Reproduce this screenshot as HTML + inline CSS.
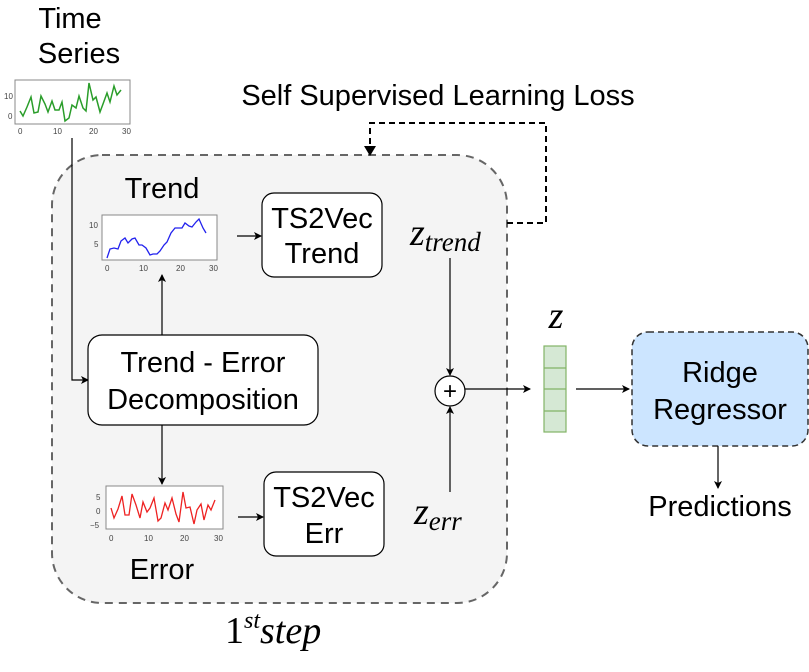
<!DOCTYPE html>
<html><head><meta charset="utf-8"><style>
html,body{margin:0;padding:0;background:#fff;}
svg{display:block;font-family:"Liberation Sans",sans-serif;}
.ax{font-size:8px;fill:#444;}
.t{font-size:29px;}
.m{font-style:italic;font-family:"Liberation Serif",serif;}
</style></head><body>
<svg width="809" height="672" viewBox="0 0 809 672">
<defs>
<marker id="a" markerWidth="8" markerHeight="8" refX="7" refY="4" orient="auto" markerUnits="userSpaceOnUse"><path d="M0,0 L8,4 L0,8 L2,4z" fill="#000"/></marker>
</defs>
<rect x="52" y="155" width="455" height="448" rx="50" fill="#f4f4f4" stroke="#666" stroke-width="2" stroke-dasharray="8,6"/>
<text x="70" y="28" class="t" text-anchor="middle">Time</text>
<text x="79" y="63" class="t" text-anchor="middle">Series</text>
<text x="438" y="105" class="t" text-anchor="middle">Self Supervised Learning Loss</text>
<path d="M507,223 H546 V123 H370 V150" fill="none" stroke="#000" stroke-width="2" stroke-dasharray="6,4"/>
<path d="M364,146 L370,156 L376,146z" fill="#000"/>
<rect x="15" y="80" width="115" height="44" fill="#fff" stroke="#888"/>
<polyline points="20,111 23,116 27,107 31,97 34,113 38,112 41,96 45,104 48,112 52,101 55,110 59,110 62,102 65,121 69,118 72,105 76,108 79,96 83,108 86,111 89,83 93,100 96,97 100,112 103,104 107,93 110,102 114,86 117,95 121,90" fill="none" stroke="#2a9d2a" stroke-width="1.5"/>
<text x="4" y="99" class="ax">10</text><text x="8" y="119" class="ax">0</text>
<text x="18" y="134" class="ax">0</text><text x="53" y="134" class="ax">10</text><text x="89" y="134" class="ax">20</text><text x="122" y="134" class="ax">30</text>
<polyline points="72,138 72,380 88,380" fill="none" stroke="#000" stroke-width="1.2" marker-end="url(#a)"/>
<text x="162" y="198" class="t" text-anchor="middle">Trend</text>
<rect x="102" y="215" width="115" height="45" fill="#fff" stroke="#888"/>
<polyline points="107,258 110,249 114,248 118,249 121,241 125,238 128,243 132,239 135,238 139,245 142,245 146,248 150,255 153,254 157,254 160,251 164,245 167,242 171,233 175,228 178,228 182,228 185,223 189,226 192,227 196,222 199,219 203,228 206,233" fill="none" stroke="#2222ee" stroke-width="1.3"/>
<text x="89" y="228" class="ax">10</text><text x="94" y="247" class="ax">5</text>
<text x="105" y="271" class="ax">0</text><text x="139" y="271" class="ax">10</text><text x="176" y="271" class="ax">20</text><text x="209" y="271" class="ax">30</text>
<line x1="162" y1="335" x2="162" y2="275" stroke="#000" stroke-width="1.2" marker-end="url(#a)"/>
<line x1="237" y1="236" x2="261" y2="236" stroke="#000" stroke-width="1.2" marker-end="url(#a)"/>
<rect x="262" y="193" width="120" height="84" rx="12" fill="#fff" stroke="#000" stroke-width="1.2"/>
<text x="322" y="228" class="t" text-anchor="middle">TS2Vec</text>
<text x="322" y="263" class="t" text-anchor="middle">Trend</text>
<text x="410" y="245" font-size="38" class="m">z<tspan font-size="27" dy="6">trend</tspan></text>
<rect x="88" y="335" width="230" height="90" rx="14" fill="#fff" stroke="#000" stroke-width="1.2"/>
<text x="203" y="372" class="t" text-anchor="middle">Trend - Error</text>
<text x="203" y="409" class="t" text-anchor="middle">Decomposition</text>
<line x1="162" y1="425" x2="162" y2="484" stroke="#000" stroke-width="1.2" marker-end="url(#a)"/>
<rect x="106" y="486" width="117" height="43" fill="#fff" stroke="#888"/>
<polyline points="111,508 114,518 118,509 122,496 125,515 129,515 132,494 136,505 140,518 143,502 147,512 150,508 154,498 158,521 161,518 165,503 168,510 172,498 176,514 179,522 183,492 186,508 190,507 194,524 197,510 201,504 204,520 208,505 211,510 215,500" fill="none" stroke="#ee2222" stroke-width="1.3"/>
<text x="96" y="500" class="ax">5</text><text x="96" y="514" class="ax">0</text><text x="90" y="528" class="ax">−5</text>
<text x="109" y="541" class="ax">0</text><text x="144" y="541" class="ax">10</text><text x="180" y="541" class="ax">20</text><text x="214" y="541" class="ax">30</text>
<text x="162" y="579" class="t" text-anchor="middle">Error</text>
<line x1="238" y1="517" x2="263" y2="517" stroke="#000" stroke-width="1.2" marker-end="url(#a)"/>
<rect x="264" y="472" width="120" height="84" rx="12" fill="#fff" stroke="#000" stroke-width="1.2"/>
<text x="324" y="507" class="t" text-anchor="middle">TS2Vec</text>
<text x="324" y="543" class="t" text-anchor="middle">Err</text>
<text x="414" y="524" font-size="38" class="m">z<tspan font-size="27" dy="6">err</tspan></text>
<line x1="450" y1="258" x2="450" y2="375" stroke="#000" stroke-width="1.2" marker-end="url(#a)"/>
<line x1="450" y1="492" x2="450" y2="407" stroke="#000" stroke-width="1.2" marker-end="url(#a)"/>
<circle cx="450" cy="391" r="15" fill="#fff" stroke="#000" stroke-width="1.2"/>
<text x="450" y="399" font-size="24" text-anchor="middle">+</text>
<line x1="465" y1="389" x2="530" y2="389" stroke="#000" stroke-width="1.2" marker-end="url(#a)"/>
<text x="556" y="328" font-size="38" class="m" text-anchor="middle">z</text>
<rect x="544" y="346" width="22" height="86" fill="#d5e8d4" stroke="#82b366" stroke-width="1.2"/>
<line x1="544" y1="368" x2="566" y2="368" stroke="#82b366" stroke-width="1.2"/>
<line x1="544" y1="389" x2="566" y2="389" stroke="#82b366" stroke-width="1.2"/>
<line x1="544" y1="411" x2="566" y2="411" stroke="#82b366" stroke-width="1.2"/>
<line x1="576" y1="389" x2="629" y2="389" stroke="#000" stroke-width="1.2" marker-end="url(#a)"/>
<rect x="632" y="332" width="176" height="114" rx="16" fill="#cce5ff" stroke="#333" stroke-width="1.5" stroke-dasharray="6,4"/>
<text x="720" y="382" class="t" text-anchor="middle">Ridge</text>
<text x="720" y="419" class="t" text-anchor="middle">Regressor</text>
<line x1="718" y1="446" x2="718" y2="488" stroke="#000" stroke-width="1.2" marker-end="url(#a)"/>
<text x="720" y="516" class="t" text-anchor="middle">Predictions</text>
<text x="225" y="643" font-size="38" font-family="Liberation Serif,serif">1<tspan font-size="24" dy="-15" font-style="italic">st</tspan><tspan dy="15" font-style="italic">step</tspan></text>
</svg>
</body></html>
